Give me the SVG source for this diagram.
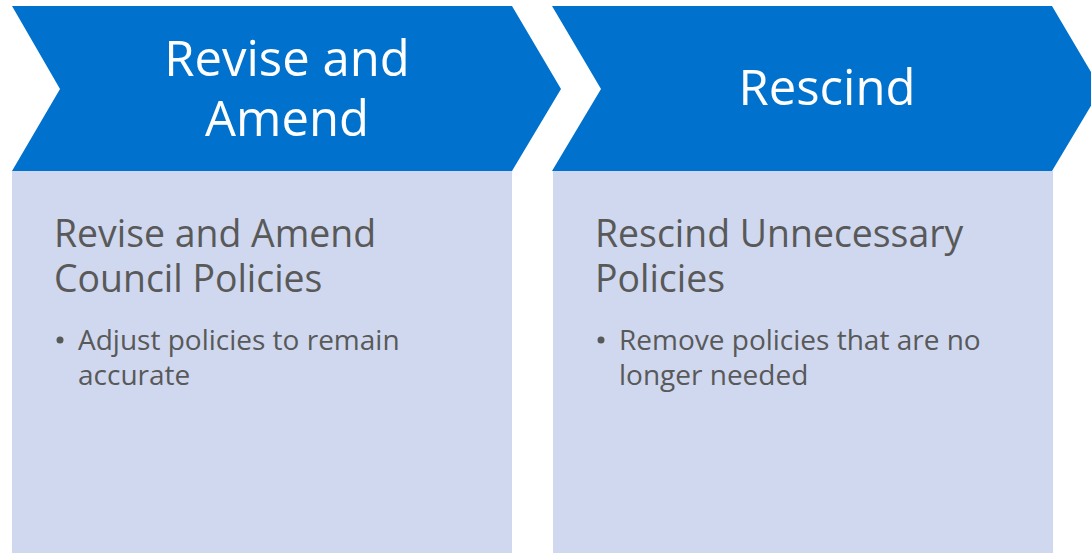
<svg xmlns="http://www.w3.org/2000/svg" width="1091" height="553" viewBox="0 0 1091 553">
<style>
.chev{fill:#0072CE}
.body{fill:#CFD8EE}
.head{fill:#FFFFFF;font-family:"Open Sans","Noto Sans",sans-serif;font-size:49px;text-anchor:middle}
.title{fill:#595959;font-family:"Open Sans","Noto Sans",sans-serif;font-size:37.4px}
.bul{fill:#595959;font-family:"Open Sans","Noto Sans",sans-serif;font-size:28px}
</style>
<rect width="1091" height="553" fill="#FFFFFF"/>
<g id="step1">
<rect class="body" x="12" y="171" width="500" height="382"/>
<polygon class="chev" points="12,6 512,6 561,89 512,171 12,171 60,89"/>
<text class="head" x="287" y="76">Revise and</text>
<text class="head" x="287" y="136">Amend</text>
<text class="title" x="54" y="247">Revise and Amend</text>
<text class="title" x="54" y="292">Council Policies</text>
<circle cx="60" cy="340" r="3.5" fill="#595959"/>
<text class="bul" x="78" y="350">Adjust policies to remain</text>
<text class="bul" x="78" y="385">accurate</text>
</g>
<g id="step2">
<rect class="body" x="553" y="171" width="500" height="382"/>
<polygon class="chev" points="552,6 1052,6 1101,89 1052,171 552,171 601,89"/>
<text class="head" x="827" y="105">Rescind</text>
<text class="title" x="595" y="247">Rescind Unnecessary</text>
<text class="title" x="595" y="292">Policies</text>
<circle cx="601" cy="340" r="3.5" fill="#595959"/>
<text class="bul" x="619" y="350">Remove policies that are no</text>
<text class="bul" x="619" y="385">longer needed</text>
</g>
<g id="connectors"/>
</svg>
